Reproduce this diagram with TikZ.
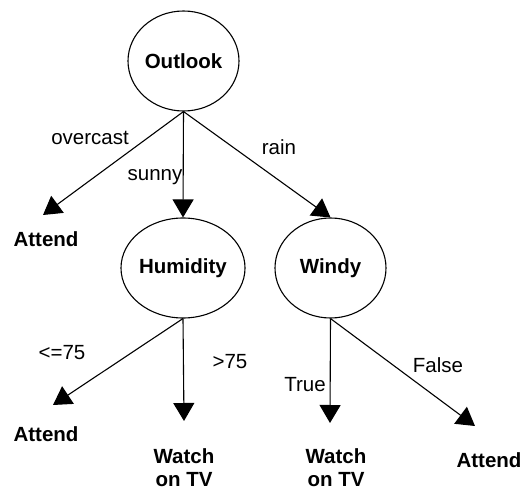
\documentclass[tikz,border=0pt]{standalone}
\usepackage{fontspec}
\setmainfont{Liberation Sans}
\usetikzlibrary{shapes.geometric,arrows.meta}
\begin{document}
\begin{tikzpicture}[x=1pt,y=-1pt,
  every node/.style={font=\fontsize{20.5}{24}\selectfont},
  test/.style={draw,ellipse,line width=1.1pt,minimum width=111pt,minimum height=100pt,inner sep=0pt,font=\fontsize{20.5}{24}\selectfont\bfseries},
  leaf/.style={font=\fontsize{20.5}{23}\selectfont\bfseries,align=center,inner sep=0pt},
  lbl/.style={font=\fontsize{20.5}{24}\selectfont,inner sep=0pt},
  arr/.style={line width=1.1pt,-{Triangle[length=18pt,width=21pt]}}]
\useasboundingbox (0,0) rectangle (528,492);
\node[test] (out) at (183.5,61) {Outlook};
\node[test] (hum) at (183,268) {Humidity};
\node[test] (win) at (330.5,268) {Windy};
\node[leaf] (a1) at (46,239) {Attend};
\node[leaf] (a2) at (46,434) {Attend};
\node[leaf] (w1) at (184,468) {Watch\\on TV};
\node[leaf] (w2) at (336,468) {Watch\\on TV};
\node[leaf] (a3) at (489,460) {Attend};
\coordinate (t1) at (43,215);
\coordinate (t2) at (53,405);
\coordinate (t3) at (184,421);
\coordinate (t4) at (330,423);
\coordinate (t5) at (475,426);
\draw[arr] (out.south) -- (t1);
\draw[arr] (out.south) -- (hum.north);
\draw[arr] (out.south) -- (win.north);
\draw[arr] (hum.south) -- (t2);
\draw[arr] (hum.south) -- (t3);
\draw[arr] (win.south) -- (t4);
\draw[arr] (win.south) -- (t5);
\node[lbl] (l1) at (90,138) {overcast};
\node[lbl] (l2) at (155,177) {sunny};
\node[lbl] (l3) at (279,147) {rain};
\node[lbl] (l4) at (62,353) {<=75};
\node[lbl] (l5) at (230,362) {>75};
\node[lbl] (l6) at (305,385) {True};
\node[lbl] (l7) at (438,365) {False};
\end{tikzpicture}
\end{document}
